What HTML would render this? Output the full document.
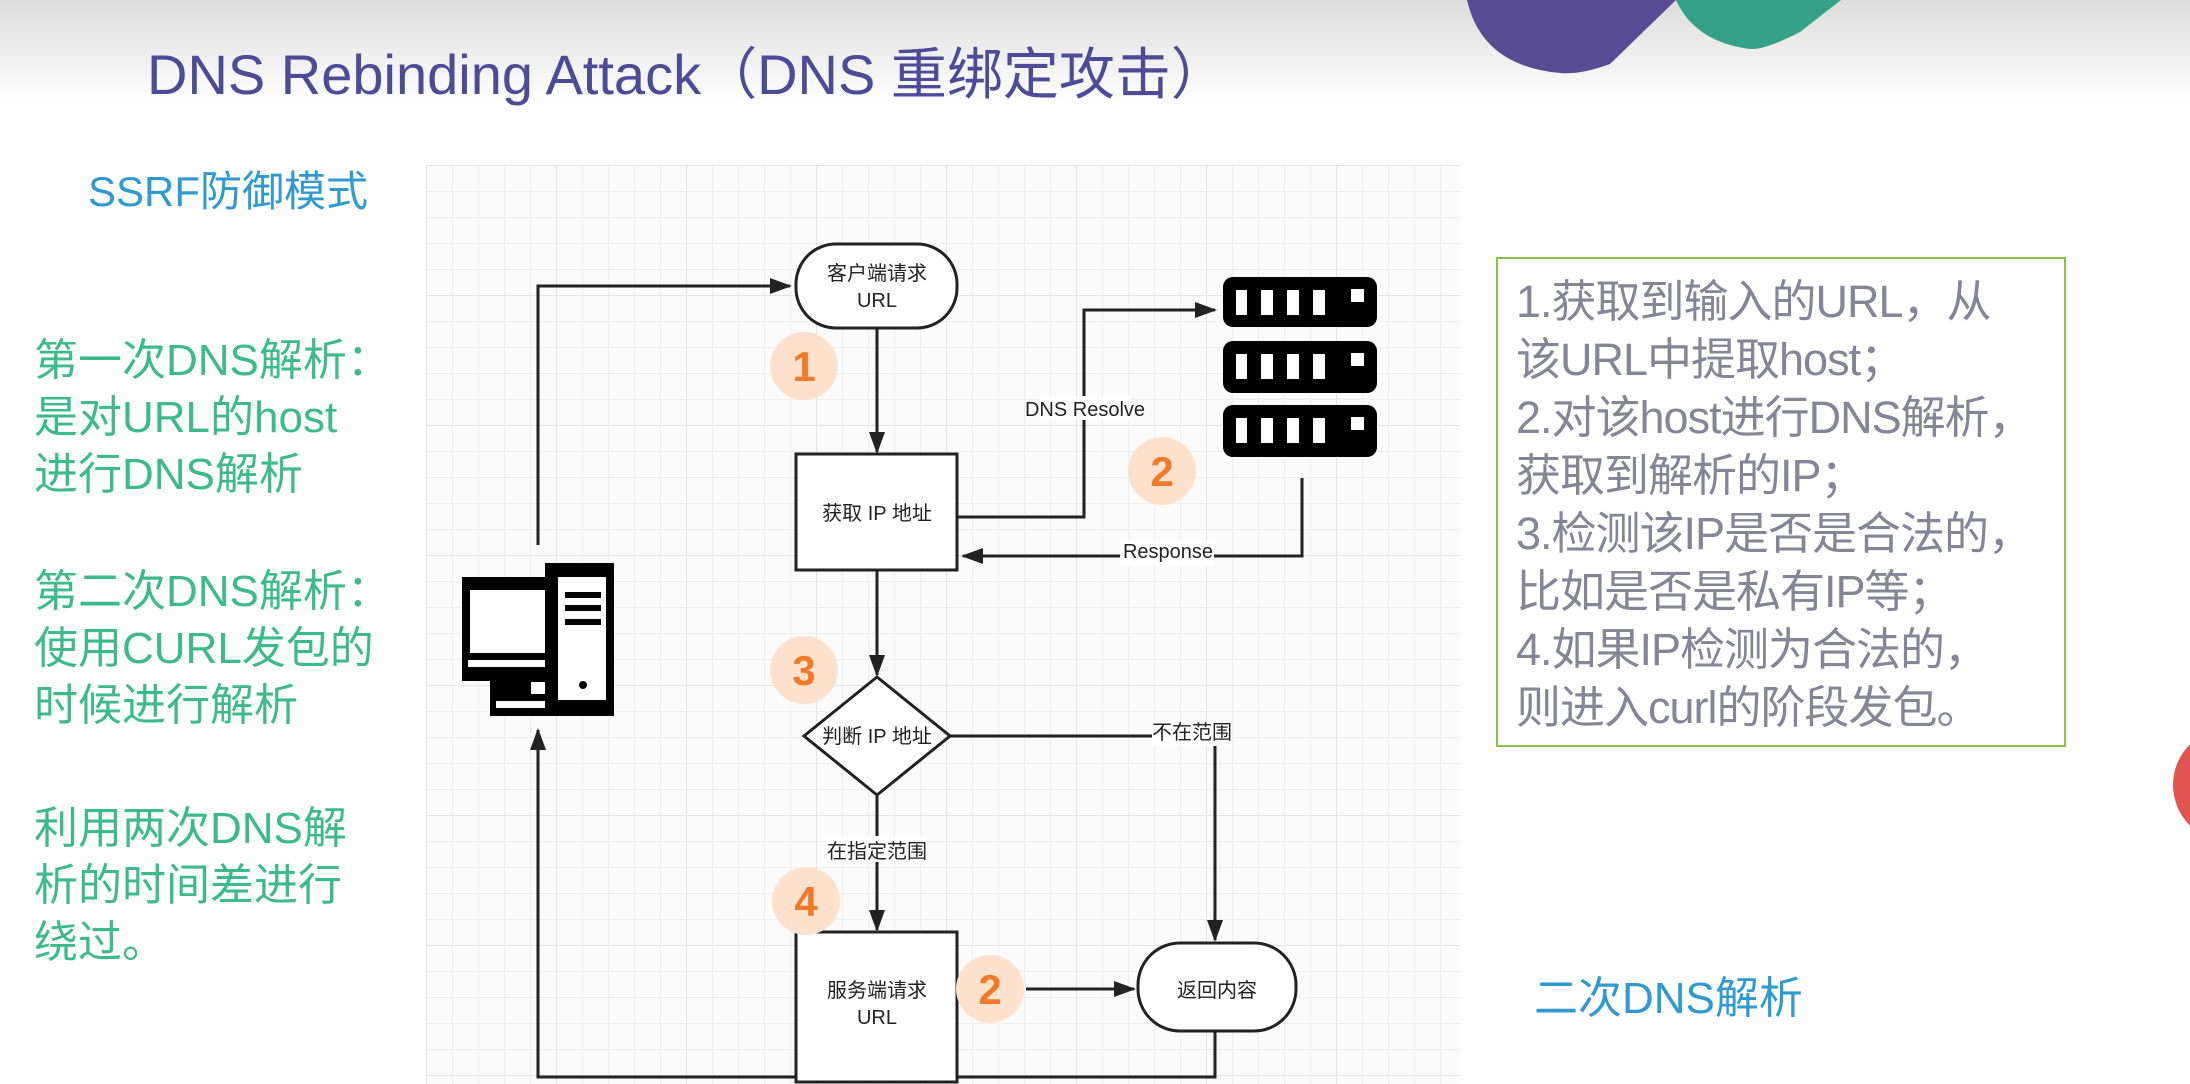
<!DOCTYPE html>
<html><head><meta charset="utf-8"><style>
*{margin:0;padding:0}
body{width:2190px;height:1084px;overflow:hidden;background:#fff;position:relative;font-family:"Liberation Sans","Noto Sans CJK SC",sans-serif}
.hdr{position:absolute;left:0;top:0;width:2190px;height:105px;background:linear-gradient(#dcdcdc,#f3f3f3 65%,#fff)}
.t{position:absolute;white-space:nowrap}
.grid{position:absolute;left:426px;top:165px;width:1034px;height:919px;
background-image:linear-gradient(#e3e3e3 1px,transparent 1px),linear-gradient(90deg,#e3e3e3 1px,transparent 1px),linear-gradient(#efefef 1px,transparent 1px),linear-gradient(90deg,#efefef 1px,transparent 1px);
background-size:130px 130px,130px 130px,26px 26px,26px 26px;background-color:#fbfbfb}
.g{color:#3dba8c;font-size:44px;line-height:57px}
.box{position:absolute;left:1496px;top:257px;width:570px;height:490px;border:2px solid #8bc34a;color:#858595;font-size:45px;line-height:58px;padding:14px 0 0 18px;box-sizing:border-box;white-space:nowrap;letter-spacing:-1px}
</style></head><body>
<div class="hdr"></div>
<svg style="position:absolute;left:0;top:0" width="2190" height="1084">
<path d="M1467 0 L1676 0 L1610 64 Q1580 75 1560 73 Q1482 66 1467 0Z" fill="#574c93"/>
<path d="M1676 0 L1841 0 L1800 32 Q1765 50 1750 49 Q1695 42 1676 0Z" fill="#35a185"/>
<circle cx="2230" cy="785" r="57" fill="#e0534f"/>
</svg>
<div class="t" style="left:147px;top:30px;font-size:56px;color:#4d4a98">DNS Rebinding Attack（DNS 重绑定攻击）</div>
<div class="grid"></div>
<div class="t" style="left:88px;top:158px;font-size:42px;color:#2e9ad0">SSRF防御模式</div>
<div class="t g" style="left:34px;top:332px">第一次DNS解析：<br>是对URL的host<br>进行DNS解析</div>
<div class="t g" style="left:34px;top:563px">第二次DNS解析：<br>使用CURL发包的<br>时候进行解析</div>
<div class="t g" style="left:34px;top:800px">利用两次DNS解<br>析的时间差进行<br>绕过。</div>
<div class="box">1.获取到输入的URL，从<br>该URL中提取host；<br>2.对该host进行DNS解析，<br>获取到解析的IP；<br>3.检测该IP是否是合法的，<br>比如是否是私有IP等；<br>4.如果IP检测为合法的，<br>则进入curl的阶段发包。</div>
<div class="t" style="left:1534px;top:962px;font-size:44px;color:#2e9ad0">二次DNS解析</div>
<svg style="position:absolute;left:0;top:0" width="2190" height="1084" font-family="Liberation Sans,Noto Sans CJK SC,sans-serif">
<defs><marker id="b" markerWidth="22" markerHeight="16" refX="20" refY="8" orient="auto" markerUnits="userSpaceOnUse"><path d="M0 0 L22 8 L0 16Z" fill="#222"/></marker></defs>
<g stroke="#222" stroke-width="3" fill="none">
<polyline points="538,545 538,286 790,286" marker-end="url(#b)"/>
<line x1="877" y1="328" x2="877" y2="452" marker-end="url(#b)"/>
<polyline points="957,517 1084,517 1084,310 1215,310" marker-end="url(#b)"/>
<polyline points="1302,478 1302,556 963,556" marker-end="url(#b)"/>
<line x1="877" y1="570" x2="877" y2="675" marker-end="url(#b)"/>
<polyline points="950,736 1215,736 1215,940" marker-end="url(#b)"/>
<line x1="877" y1="795" x2="877" y2="930" marker-end="url(#b)"/>
<line x1="1026" y1="989" x2="1134" y2="989" marker-end="url(#b)"/>
<polyline points="1215,1031 1215,1077 538,1077 538,730" marker-end="url(#b)"/>
<rect x="796" y="244" width="161" height="84" rx="40" fill="#fff"/>
<rect x="796" y="454" width="161" height="116" fill="#fff"/>
<polygon points="877,677 950,736 877,795 804,736" fill="#fff"/>
<rect x="796" y="932" width="161" height="150" fill="#fff"/>
<rect x="1138" y="943" width="158" height="88" rx="42" fill="#fff"/>
</g>
<g fill="#fff"><rect x="1040" y="396" width="90" height="24"/><rect x="1120" y="540" width="94" height="26"/><rect x="1152" y="720" width="80" height="26"/><rect x="826" y="836" width="102" height="26"/></g>
<g font-size="20" fill="#222" text-anchor="middle">
<text x="877" y="280">客户端请求</text><text x="877" y="307">URL</text>
<text x="877" y="520">获取 IP 地址</text>
<text x="877" y="743">判断 IP 地址</text>
<text x="877" y="997">服务端请求</text><text x="877" y="1024">URL</text>
<text x="1217" y="997">返回内容</text>
<text x="1085" y="416">DNS Resolve</text>
<text x="1168" y="558">Response</text>
<text x="1192" y="739">不在范围</text>
<text x="877" y="858">在指定范围</text>
</g>
<g fill="#fde1cc"><circle cx="804" cy="366" r="34"/><circle cx="1162" cy="471" r="34"/><circle cx="804" cy="670" r="34"/><circle cx="806" cy="901" r="34"/><circle cx="990" cy="989" r="34"/></g>
<g font-size="42" font-weight="bold" fill="#ef7a2a" text-anchor="middle">
<text x="804" y="381">1</text><text x="1162" y="486">2</text><text x="804" y="685">3</text><text x="806" y="916">4</text><text x="990" y="1004">2</text></g>
<g fill="#000">
<rect x="1223" y="277" width="154" height="50" rx="10"/><rect x="1223" y="341" width="154" height="52" rx="10"/><rect x="1223" y="405" width="154" height="52" rx="10"/>
<rect x="462" y="577" width="88" height="104"/><rect x="545" y="563" width="69" height="153"/><rect x="490" y="680" width="55" height="36"/>
</g>
<g fill="#fff">
<rect x="1236" y="290" width="11" height="25"/><rect x="1261" y="290" width="12" height="25"/><rect x="1287" y="290" width="12" height="25"/><rect x="1313" y="290" width="12" height="25"/><rect x="1351" y="289" width="13" height="13"/>
<rect x="1236" y="354" width="11" height="25"/><rect x="1261" y="354" width="12" height="25"/><rect x="1287" y="354" width="12" height="25"/><rect x="1313" y="354" width="12" height="25"/><rect x="1351" y="353" width="13" height="13"/>
<rect x="1236" y="418" width="11" height="25"/><rect x="1261" y="418" width="12" height="25"/><rect x="1287" y="418" width="12" height="25"/><rect x="1313" y="418" width="12" height="25"/><rect x="1351" y="417" width="13" height="13"/>
<rect x="470" y="590" width="75" height="63"/><rect x="468" y="660" width="77" height="7"/><rect x="531" y="682" width="14" height="12"/><rect x="496" y="701" width="49" height="7"/>
<rect x="558" y="577" width="48" height="123"/>
</g>
<g fill="#000"><rect x="565" y="592" width="36" height="6"/><rect x="565" y="605" width="36" height="6"/><rect x="565" y="619" width="36" height="6"/><circle cx="583" cy="685" r="4"/></g>
</svg>
</body></html>
